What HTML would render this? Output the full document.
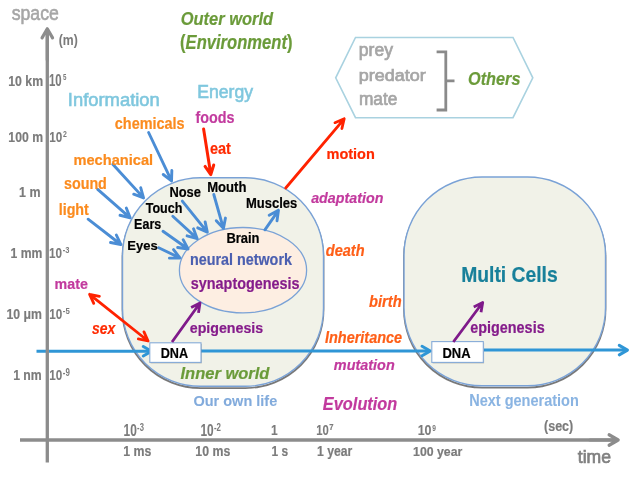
<!DOCTYPE html>
<html><head><meta charset="utf-8"><style>
html,body{margin:0;padding:0;background:#fff;width:640px;height:477px;overflow:hidden}
svg{display:block}
text{font-family:"Liberation Sans",sans-serif}
</style></head><body>
<svg width="640" height="477" viewBox="0 0 640 477"><defs><filter id="blur" x="-10%" y="-10%" width="120%" height="120%"><feGaussianBlur stdDeviation="0.7"/></filter><filter id="none" x="0" y="0" width="640" height="477" filterUnits="userSpaceOnUse"><feOffset dx="0" dy="0"/></filter></defs>
<path d="M200.5,179.6 H245.5 A78,78 0 0 1 323.5,257.6 V310.1 A78,78 0 0 1 245.5,388.1 H200.5 A78,78 0 0 1 122.5,310.1 V257.6 A78,78 0 0 1 200.5,179.6 Z" fill="none" stroke="#222" stroke-opacity="0.6" stroke-width="1.8" filter="url(#blur)"/>
<path d="M482,178.8 H527.5 A78,78 0 0 1 605.5,256.8 V309.6 A78,78 0 0 1 527.5,387.6 H482 A78,78 0 0 1 404,309.6 V256.8 A78,78 0 0 1 482,178.8 Z" fill="none" stroke="#222" stroke-opacity="0.6" stroke-width="1.8" filter="url(#blur)"/>
<path d="M200.5,177.8 H245.5 A78,78 0 0 1 323.5,255.8 V308.3 A78,78 0 0 1 245.5,386.3 H200.5 A78,78 0 0 1 122.5,308.3 V255.8 A78,78 0 0 1 200.5,177.8 Z" fill="#f1f2e8" stroke="#7aa2d6" stroke-width="1.4"/>
<path d="M482,177 H527.5 A78,78 0 0 1 605.5,255 V307.8 A78,78 0 0 1 527.5,385.8 H482 A78,78 0 0 1 404,307.8 V255 A78,78 0 0 1 482,177 Z" fill="#f1f2e8" stroke="#7aa2d6" stroke-width="1.4"/>
<ellipse cx="243" cy="270.2" rx="63.6" ry="42.7" fill="#fdeee2" stroke="#7aa2d6" stroke-width="1.3"/>
<path d="M355.5,37.5 L513,37.5 L532.8,77.8 L513,117.7 L355.5,117.7 L335.7,77.8 Z" fill="#fff" stroke="#a9d2e0" stroke-width="1.6"/>
<path d="M436.6,51.8 H445.8 V110 H436.6 M445.8,80.9 H454.5" fill="none" stroke="#8a8a8a" stroke-width="2.8"/>
<path d="M36.5,351.2 H151 M201,351.1 H430 M484,350.1 H627" stroke="#2f96d6" stroke-width="3" fill="none"/>
<path d="M143.27,346.45 L151.50,351.20 L143.27,355.95" fill="none" stroke="#2f96d6" stroke-width="3" stroke-linecap="round" stroke-linejoin="round"/>
<path d="M422.07,346.25 L430.30,351.00 L422.07,355.75" fill="none" stroke="#2f96d6" stroke-width="3" stroke-linecap="round" stroke-linejoin="round"/>
<path d="M619.27,345.35 L627.50,350.10 L619.27,354.85" fill="none" stroke="#2f96d6" stroke-width="3" stroke-linecap="round" stroke-linejoin="round"/>
<path d="M47.3,462.5 V29" stroke="#8c8c8c" stroke-width="3.3" fill="none"/>
<path d="M47.30,60.00 L47.30,28.80 M42.05,37.89 L47.30,28.80 L52.55,37.89" fill="none" stroke="#8c8c8c" stroke-width="3.2" stroke-linecap="round" stroke-linejoin="round"/>
<path d="M20,440 H618" stroke="#8c8c8c" stroke-width="3.4" fill="none"/>
<path d="M590.00,440.00 L618.20,440.00 M609.11,434.75 L618.20,440.00 L609.11,445.25" fill="none" stroke="#8c8c8c" stroke-width="3.2" stroke-linecap="round" stroke-linejoin="round"/>
<rect x="150.6" y="343.8" width="51.2" height="19.6" fill="#000" fill-opacity="0.25" filter="url(#blur)"/>
<rect x="432.6" y="342.6" width="51.5" height="20.8" fill="#000" fill-opacity="0.25" filter="url(#blur)"/>
<rect x="149.8" y="342.8" width="51.2" height="19.6" fill="#fff" stroke="#86abd8" stroke-width="1.1"/>
<rect x="431.8" y="341.6" width="51.5" height="20.8" fill="#fff" stroke="#86abd8" stroke-width="1.1"/>
<path d="M148.60,132.50 L171.54,180.92 M171.84,170.43 L171.54,180.92 L163.23,174.51" fill="none" stroke="#4b8dd5" stroke-width="2.9" stroke-linecap="round" stroke-linejoin="round"/>
<path d="M112.80,164.20 L143.54,197.89 M140.75,187.77 L143.54,197.89 L133.71,194.19" fill="none" stroke="#4b8dd5" stroke-width="2.9" stroke-linecap="round" stroke-linejoin="round"/>
<path d="M97.70,189.40 L130.20,217.83 M126.30,208.08 L130.20,217.83 L120.02,215.26" fill="none" stroke="#4b8dd5" stroke-width="2.9" stroke-linecap="round" stroke-linejoin="round"/>
<path d="M88.10,219.20 L120.83,244.49 M116.34,235.00 L120.83,244.49 L110.52,242.54" fill="none" stroke="#4b8dd5" stroke-width="2.9" stroke-linecap="round" stroke-linejoin="round"/>
<path d="M182.30,201.10 L207.30,232.12 M205.14,221.85 L207.30,232.12 L197.72,227.83" fill="none" stroke="#4b8dd5" stroke-width="2.9" stroke-linecap="round" stroke-linejoin="round"/>
<path d="M213.80,194.50 L223.42,228.37 M225.45,218.07 L223.42,228.37 L216.28,220.67" fill="none" stroke="#4b8dd5" stroke-width="2.9" stroke-linecap="round" stroke-linejoin="round"/>
<path d="M172.80,216.20 L197.19,238.64 M193.53,228.80 L197.19,238.64 L187.08,235.81" fill="none" stroke="#4b8dd5" stroke-width="2.9" stroke-linecap="round" stroke-linejoin="round"/>
<path d="M163.00,231.30 L188.05,248.96 M183.15,239.67 L188.05,248.96 L177.66,247.47" fill="none" stroke="#4b8dd5" stroke-width="2.9" stroke-linecap="round" stroke-linejoin="round"/>
<path d="M158.70,247.70 L179.92,257.95 M173.57,249.59 L179.92,257.95 L169.42,258.17" fill="none" stroke="#4b8dd5" stroke-width="2.9" stroke-linecap="round" stroke-linejoin="round"/>
<path d="M264.90,229.80 L278.46,210.34 M269.20,215.29 L278.46,210.34 L277.02,220.74" fill="none" stroke="#4b8dd5" stroke-width="2.9" stroke-linecap="round" stroke-linejoin="round"/>
<path d="M203.60,128.90 L210.80,174.60 M213.73,165.04 L210.80,174.60 L205.07,166.40" fill="none" stroke="#ff2200" stroke-width="3" stroke-linecap="round" stroke-linejoin="round"/>
<path d="M285.70,188.00 L344.20,118.80 M334.98,122.67 L344.20,118.80 L341.91,128.54" fill="none" stroke="#ff2200" stroke-width="2.8" stroke-linecap="round" stroke-linejoin="round"/>
<path d="M89.60,294.30 L148.10,341.00 M143.97,331.89 L148.10,341.00 L138.30,338.99 M93.73,303.41 L89.60,294.30 L99.40,296.31" fill="none" stroke="#ff2200" stroke-width="2.8" stroke-linecap="round" stroke-linejoin="round"/>
<path d="M172.00,342.00 L200.00,303.00 M191.12,307.59 L200.00,303.00 L198.49,312.89" fill="none" stroke="#7f1a8a" stroke-width="2.8" stroke-linecap="butt" stroke-linejoin="round"/>
<path d="M453.30,342.00 L482.70,302.50 M473.74,306.94 L482.70,302.50 L481.02,312.36" fill="none" stroke="#7f1a8a" stroke-width="2.8" stroke-linecap="butt" stroke-linejoin="round"/>
<g filter="url(#none)">
<text transform="translate(11.67,19.9) scale(0.8603,1)" font-size="20.56" font-weight="normal" font-style="normal" fill="#a6a6a6" stroke="#a6a6a6" stroke-width="0.6">space</text>
<text transform="translate(58.69,45) scale(0.8287,1)" font-size="14.79" font-weight="bold" font-style="normal" fill="#7b7b7b" stroke="#7b7b7b" stroke-width="0.05">(m)</text>
<text transform="translate(8.26,85.7) scale(0.8543,1)" font-size="14.38" font-weight="bold" font-style="normal" fill="#7b7b7b" stroke="#7b7b7b" stroke-width="0.2">10 km</text>
<text transform="translate(8.37,141.8) scale(0.8382,1)" font-size="14.57" font-weight="bold" font-style="normal" fill="#7b7b7b" stroke="#7b7b7b" stroke-width="0.2">100 m</text>
<text transform="translate(19.05,197) scale(0.8582,1)" font-size="14.49" font-weight="bold" font-style="normal" fill="#7b7b7b" stroke="#7b7b7b" stroke-width="0.2">1 m</text>
<text transform="translate(10.57,257.7) scale(0.8656,1)" font-size="14.06" font-weight="bold" font-style="normal" fill="#7b7b7b" stroke="#7b7b7b" stroke-width="0.2">1 mm</text>
<text transform="translate(6.46,318.7) scale(0.8183,1)" font-size="15.0" font-weight="bold" font-style="normal" fill="#7b7b7b" stroke="#7b7b7b" stroke-width="0.2">10 μm</text>
<text transform="translate(13.16,380) scale(0.8295,1)" font-size="14.78" font-weight="bold" font-style="normal" fill="#7b7b7b" stroke="#7b7b7b" stroke-width="0.2">1 nm</text>
<text transform="translate(49.02,85.75) scale(0.7069,1)" font-size="16.11" font-weight="bold" font-style="normal" fill="#7b7b7b" stroke="#7b7b7b" stroke-width="0.1">10</text>
<text transform="translate(63.11,80.4) scale(0.679,1)" font-size="9.13" font-weight="bold" font-style="normal" fill="#7b7b7b" stroke="#7b7b7b" stroke-width="0.0">5</text>
<text transform="translate(49.3,141.6) scale(0.7789,1)" font-size="15.0" font-weight="bold" font-style="normal" fill="#7b7b7b" stroke="#7b7b7b" stroke-width="0.1">10</text>
<text transform="translate(63.09,137) scale(0.7143,1)" font-size="9.71" font-weight="bold" font-style="normal" fill="#7b7b7b" stroke="#7b7b7b" stroke-width="0.0">2</text>
<text transform="translate(49.05,257.8) scale(0.7822,1)" font-size="15.0" font-weight="bold" font-style="normal" fill="#7b7b7b" stroke="#7b7b7b" stroke-width="0.1">10</text>
<text transform="translate(62.7,253.1) scale(0.8123,1)" font-size="9.27" font-weight="bold" font-style="normal" fill="#7b7b7b" stroke="#7b7b7b" stroke-width="0.0">-3</text>
<text transform="translate(49.2,318.7) scale(0.7789,1)" font-size="15.0" font-weight="bold" font-style="normal" fill="#7b7b7b" stroke="#7b7b7b" stroke-width="0.1">10</text>
<text transform="translate(62.79,314.2) scale(0.8352,1)" font-size="9.34" font-weight="bold" font-style="normal" fill="#7b7b7b" stroke="#7b7b7b" stroke-width="0.0">-5</text>
<text transform="translate(49.2,380) scale(0.8018,1)" font-size="14.57" font-weight="bold" font-style="normal" fill="#7b7b7b" stroke="#7b7b7b" stroke-width="0.1">10</text>
<text transform="translate(62.78,375.8) scale(0.7901,1)" font-size="10.0" font-weight="bold" font-style="normal" fill="#7b7b7b" stroke="#7b7b7b" stroke-width="0.0">-9</text>
<text transform="translate(123.59,435.5) scale(0.7439,1)" font-size="15.97" font-weight="bold" font-style="normal" fill="#7b7b7b" stroke="#7b7b7b" stroke-width="0.1">10</text>
<text transform="translate(137.09,430.5) scale(0.7609,1)" font-size="10.06" font-weight="bold" font-style="normal" fill="#7b7b7b" stroke="#7b7b7b" stroke-width="0.0">-3</text>
<text transform="translate(200.49,435.5) scale(0.7439,1)" font-size="15.97" font-weight="bold" font-style="normal" fill="#7b7b7b" stroke="#7b7b7b" stroke-width="0.1">10</text>
<text transform="translate(213.98,430.8) scale(0.7536,1)" font-size="10.48" font-weight="bold" font-style="normal" fill="#7b7b7b" stroke="#7b7b7b" stroke-width="0.0">-2</text>
<text transform="translate(271.0,435.3) scale(0.8,1)" font-size="15.07" font-weight="bold" font-style="normal" fill="#7b7b7b" stroke="#7b7b7b" stroke-width="0.1">1</text>
<text transform="translate(316.32,435.3) scale(0.7597,1)" font-size="14.86" font-weight="bold" font-style="normal" fill="#7b7b7b" stroke="#7b7b7b" stroke-width="0.1">10</text>
<text transform="translate(329.23,430.4) scale(0.85,1)" font-size="8.99" font-weight="bold" font-style="normal" fill="#7b7b7b" stroke="#7b7b7b" stroke-width="0.2">7</text>
<text transform="translate(417.65,435.2) scale(0.8911,1)" font-size="14.0" font-weight="bold" font-style="normal" fill="#7b7b7b" stroke="#7b7b7b" stroke-width="0.1">10</text>
<text transform="translate(432.13,430.9) scale(0.7071,1)" font-size="9.43" font-weight="bold" font-style="normal" fill="#7b7b7b" stroke="#7b7b7b" stroke-width="0.0">9</text>
<text transform="translate(123.31,455.5) scale(0.8514,1)" font-size="14.49" font-weight="bold" font-style="normal" fill="#7b7b7b" stroke="#7b7b7b" stroke-width="0.2">1 ms</text>
<text transform="translate(195.31,455.5) scale(0.8628,1)" font-size="14.29" font-weight="bold" font-style="normal" fill="#7b7b7b" stroke="#7b7b7b" stroke-width="0.2">10 ms</text>
<text transform="translate(271.58,455.5) scale(0.8237,1)" font-size="14.49" font-weight="bold" font-style="normal" fill="#7b7b7b" stroke="#7b7b7b" stroke-width="0.2">1 s</text>
<text transform="translate(317.07,455.5) scale(0.8417,1)" font-size="14.49" font-weight="bold" font-style="normal" fill="#7b7b7b" stroke="#7b7b7b" stroke-width="0.2">1 year</text>
<text transform="translate(413.06,455.5) scale(0.9251,1)" font-size="13.29" font-weight="bold" font-style="normal" fill="#7b7b7b" stroke="#7b7b7b" stroke-width="0.2">100 year</text>
<text transform="translate(544.07,431) scale(0.8669,1)" font-size="14.42" font-weight="bold" font-style="normal" fill="#7b7b7b" stroke="#7b7b7b" stroke-width="0.2">(sec)</text>
<text transform="translate(577.75,463) scale(0.9724,1)" font-size="18.08" font-weight="normal" font-style="normal" fill="#808080" stroke="#808080" stroke-width="0.7">time</text>
<text transform="translate(180.68,24.8) scale(0.884,1)" font-size="18.63" font-weight="bold" font-style="italic" fill="#6b9b3a" stroke="#6b9b3a" stroke-width="0.2">Outer world</text>
<text transform="translate(180.07,48.8) scale(0.8467,1)" font-size="19.59" font-weight="bold" font-style="italic" fill="#6b9b3a" stroke="#6b9b3a" stroke-width="0.2"><tspan font-style="normal">(</tspan>Environment<tspan font-style="normal">)</tspan></text>
<text transform="translate(67.85,106.3) scale(0.9861,1)" font-size="18.63" font-weight="normal" font-style="normal" fill="#7fc7de" stroke="#7fc7de" stroke-width="0.6">Information</text>
<text transform="translate(197.19,97.9) scale(0.9216,1)" font-size="19.13" font-weight="normal" font-style="normal" fill="#7fc7de" stroke="#7fc7de" stroke-width="0.6">Energy</text>
<text transform="translate(114.82,129.2) scale(0.8786,1)" font-size="16.44" font-weight="bold" font-style="normal" fill="#fb8b1e" stroke="#fb8b1e" stroke-width="0.2">chemicals</text>
<text transform="translate(73.48,164.5) scale(0.9453,1)" font-size="15.48" font-weight="bold" font-style="normal" fill="#fb8b1e" stroke="#fb8b1e" stroke-width="0.2">mechanical</text>
<text transform="translate(63.93,189.4) scale(0.8938,1)" font-size="16.03" font-weight="bold" font-style="normal" fill="#fb8b1e" stroke="#fb8b1e" stroke-width="0.2">sound</text>
<text transform="translate(58.7,215) scale(0.899,1)" font-size="15.89" font-weight="bold" font-style="normal" fill="#fb8b1e" stroke="#fb8b1e" stroke-width="0.2">light</text>
<text transform="translate(195.51,123.4) scale(0.8523,1)" font-size="16.85" font-weight="bold" font-style="normal" fill="#c23a9e" stroke="#c23a9e" stroke-width="0.2">foods</text>
<text transform="translate(209.92,154) scale(0.8867,1)" font-size="16.39" font-weight="bold" font-style="normal" fill="#ff2a00" stroke="#ff2a00" stroke-width="0.2">eat</text>
<text transform="translate(169.4,197.4) scale(0.8905,1)" font-size="14.49" font-weight="bold" font-style="normal" fill="#000" stroke="#000" stroke-width="0.2">Nose</text>
<text transform="translate(207.18,191.6) scale(0.9196,1)" font-size="14.25" font-weight="bold" font-style="normal" fill="#000" stroke="#000" stroke-width="0.2">Mouth</text>
<text transform="translate(145.67,212.5) scale(0.8482,1)" font-size="14.81" font-weight="bold" font-style="normal" fill="#000" stroke="#000" stroke-width="0.2">Touch</text>
<text transform="translate(134.12,228.9) scale(0.9097,1)" font-size="13.77" font-weight="bold" font-style="normal" fill="#000" stroke="#000" stroke-width="0.2">Ears</text>
<text transform="translate(127.29,250.2) scale(0.9556,1)" font-size="13.62" font-weight="bold" font-style="normal" fill="#000" stroke="#000" stroke-width="0.2">Eyes</text>
<text transform="translate(245.99,208.1) scale(0.9127,1)" font-size="14.25" font-weight="bold" font-style="normal" fill="#000" stroke="#000" stroke-width="0.2">Muscles</text>
<text transform="translate(226.39,242.7) scale(0.9123,1)" font-size="14.22" font-weight="bold" font-style="normal" fill="#000" stroke="#000" stroke-width="0.2">Brain</text>
<text transform="translate(189.89,264.5) scale(0.896,1)" font-size="16.03" font-weight="bold" font-style="normal" fill="#4b5fb0" stroke="#4b5fb0" stroke-width="0.2">neural network</text>
<text transform="translate(190.82,289.1) scale(0.8984,1)" font-size="16.03" font-weight="bold" font-style="normal" fill="#851c8b" stroke="#851c8b" stroke-width="0.2">synaptogenesis</text>
<text transform="translate(189.73,332.8) scale(0.9614,1)" font-size="14.79" font-weight="bold" font-style="normal" fill="#851c8b" stroke="#851c8b" stroke-width="0.2">epigenesis</text>
<text transform="translate(160.67,358) scale(0.8496,1)" font-size="14.87" font-weight="bold" font-style="normal" fill="#000" stroke="#000" stroke-width="0.2">DNA</text>
<text transform="translate(180.47,378.75) scale(0.965,1)" font-size="17.12" font-weight="bold" font-style="italic" fill="#6b9b3a" stroke="#6b9b3a" stroke-width="0.2">Inner world</text>
<text transform="translate(193.47,406.25) scale(0.9409,1)" font-size="15.41" font-weight="bold" font-style="normal" fill="#82abdc" stroke="#82abdc" stroke-width="0.1">Our own life</text>
<text transform="translate(54.6,289.2) scale(0.9458,1)" font-size="15.08" font-weight="bold" font-style="normal" fill="#c23a9e" stroke="#c23a9e" stroke-width="0.2">mate</text>
<text transform="translate(92.06,333.8) scale(0.8252,1)" font-size="16.85" font-weight="bold" font-style="italic" fill="#ff2a00" stroke="#ff2a00" stroke-width="0.2">sex</text>
<text transform="translate(326.48,158.9) scale(0.9822,1)" font-size="14.79" font-weight="bold" font-style="normal" fill="#ff2a00" stroke="#ff2a00" stroke-width="0.2">motion</text>
<text transform="translate(311.16,203) scale(0.9742,1)" font-size="14.66" font-weight="bold" font-style="italic" fill="#c23a9e" stroke="#c23a9e" stroke-width="0.2">adaptation</text>
<text transform="translate(325.86,255.8) scale(0.9136,1)" font-size="15.89" font-weight="bold" font-style="italic" fill="#ff5f17" stroke="#ff5f17" stroke-width="0.2">death</text>
<text transform="translate(369.01,307) scale(0.9157,1)" font-size="16.03" font-weight="bold" font-style="italic" fill="#ff5f17" stroke="#ff5f17" stroke-width="0.2">birth</text>
<text transform="translate(325.01,342.5) scale(0.8797,1)" font-size="16.44" font-weight="bold" font-style="italic" fill="#ff5f17" stroke="#ff5f17" stroke-width="0.2">Inheritance</text>
<text transform="translate(333.81,369.5) scale(0.9765,1)" font-size="14.79" font-weight="bold" font-style="italic" fill="#c23a9e" stroke="#c23a9e" stroke-width="0.2">mutation</text>
<text transform="translate(322.87,409.7) scale(0.9251,1)" font-size="17.67" font-weight="bold" font-style="italic" fill="#c23a9e" stroke="#c23a9e" stroke-width="0.2">Evolution</text>
<text transform="translate(358.87,55.5) scale(0.997,1)" font-size="17.59" font-weight="normal" font-style="normal" fill="#a6a6a6" stroke="#a6a6a6" stroke-width="0.7">prey</text>
<text transform="translate(358.84,80.6) scale(1.1022,1)" font-size="16.3" font-weight="normal" font-style="normal" fill="#a6a6a6" stroke="#a6a6a6" stroke-width="0.7">predator</text>
<text transform="translate(358.89,105.1) scale(0.9329,1)" font-size="18.59" font-weight="normal" font-style="normal" fill="#a6a6a6" stroke="#a6a6a6" stroke-width="0.7">mate</text>
<text transform="translate(467.98,85.1) scale(0.8741,1)" font-size="18.66" font-weight="bold" font-style="italic" fill="#6b9b3a" stroke="#6b9b3a" stroke-width="0.2">Others</text>
<text transform="translate(461.15,282.3) scale(0.8929,1)" font-size="21.64" font-weight="bold" font-style="normal" fill="#18809a" stroke="#18809a" stroke-width="0.2">Multi Cells</text>
<text transform="translate(442.39,358.3) scale(0.838,1)" font-size="15.51" font-weight="bold" font-style="normal" fill="#000" stroke="#000" stroke-width="0.2">DNA</text>
<text transform="translate(470.22,332.7) scale(0.9222,1)" font-size="15.62" font-weight="bold" font-style="normal" fill="#851c8b" stroke="#851c8b" stroke-width="0.2">epigenesis</text>
<text transform="translate(469.18,406.2) scale(0.9061,1)" font-size="16.03" font-weight="bold" font-style="normal" fill="#8ab4e2" stroke="#8ab4e2" stroke-width="0.1">Next generation</text>
</g>
</svg>
</body></html>
